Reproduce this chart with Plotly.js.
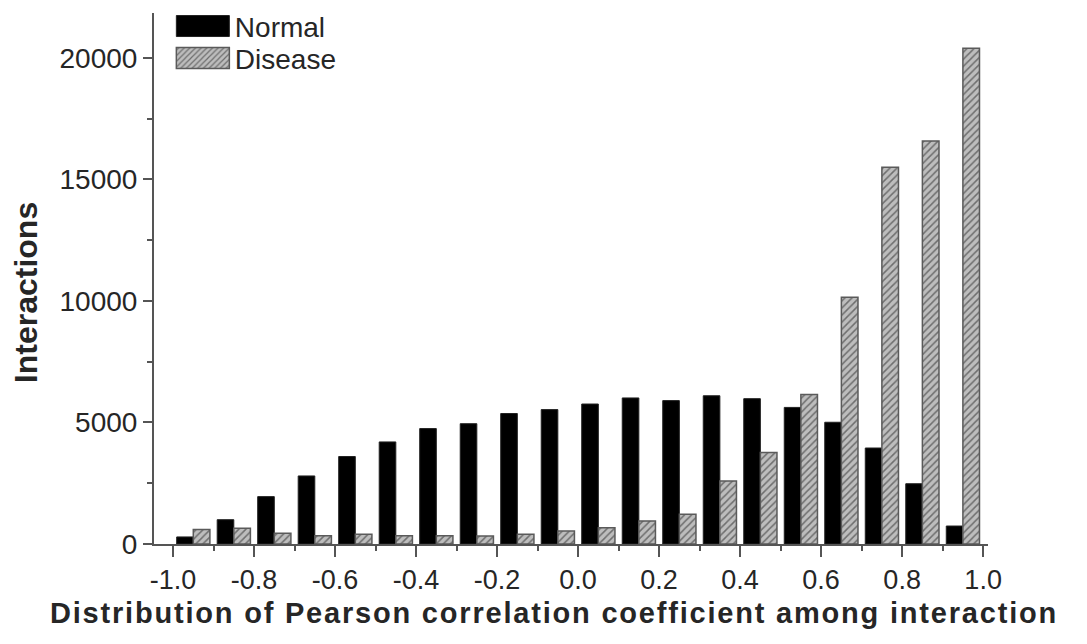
<!DOCTYPE html>
<html>
<head>
<meta charset="utf-8">
<script src="https://cdn.plot.ly/plotly-3.0.1.min.js"></script>
<style>
html,body{margin:0;padding:0;background:#fff;}
#chart{width:1087px;height:644px;}
#chart .g-xtitle text{letter-spacing:1.8px;}
</style>
</head>
<body>
<div id="chart"></div>
<script>
// Bin centres of the Pearson correlation histogram (bin width 0.1)
const binCenters = [-0.95, -0.85, -0.75, -0.65, -0.55, -0.45, -0.35, -0.25, -0.15, -0.05,
                    0.05, 0.15, 0.25, 0.35, 0.45, 0.55, 0.65, 0.75, 0.85, 0.95];
const normalCounts = [290, 1000, 1950, 2800, 3600, 4200, 4750, 4950, 5370, 5530,
                      5760, 6010, 5900, 6100, 5980, 5620, 5010, 3950, 2480, 740];
const diseaseCounts = [600, 650, 440, 340, 400, 340, 340, 330, 400, 530,
                       670, 950, 1220, 2590, 3770, 6150, 10150, 15500, 16580, 20400];
const xTickVals = [-1.0, -0.8, -0.6, -0.4, -0.2, 0.0, 0.2, 0.4, 0.6, 0.8, 1.0];
const xTickText = ['-1.0', '-0.8', '-0.6', '-0.4', '-0.2', '0.0', '0.2', '0.4', '0.6', '0.8', '1.0'];
const yTickVals = [0, 5000, 10000, 15000, 20000];
const yTickText = ['0', '5000', '10000', '15000', '20000'];

const FONT = 'Liberation Sans, Arial, sans-serif';
const AX = '#555555';
const TXT = '#262626';

const traces = [
  {
    type: 'bar', name: 'Normal', x: binCenters, y: normalCounts,
    marker: {color: '#000000', line: {color: '#222222', width: 1}}
  },
  {
    type: 'bar', name: 'Disease', x: binCenters, y: diseaseCounts,
    marker: {
      color: '#b4b4b4',
      line: {color: '#5a5a5a', width: 1.5},
      pattern: {shape: '/', fgcolor: '#6e6e6e', bgcolor: '#bdbdbd', size: 5, solidity: 0.3}
    }
  }
];

const layout = {
  width: 1087, height: 644,
  paper_bgcolor: '#ffffff', plot_bgcolor: '#ffffff',
  margin: {l: 154, r: 99, t: 13, b: 100, autoexpand: false},
  barmode: 'group', bargap: 0.18, bargroupgap: 0,
  font: {family: FONT, size: 27, color: TXT},
  showlegend: true,
  legend: {
    x: 0.019, y: 1.022, xanchor: 'left', yanchor: 'top',
    bgcolor: 'rgba(0,0,0,0)', borderwidth: 0,
    font: {family: FONT, size: 28, color: TXT},
    itemwidth: 55, tracegroupgap: 0
  },
  xaxis: {
    range: [-1.047, 1.012], autorange: false,
    tickmode: 'array', tickvals: xTickVals, ticktext: xTickText,
    ticks: 'outside', ticklen: 11, tickwidth: 2, tickcolor: AX,
    minor: {dtick: 0.1, tick0: -1, ticks: 'outside', ticklen: 5, tickwidth: 2, tickcolor: AX},
    showline: true, linecolor: AX, linewidth: 2,
    showgrid: false, zeroline: false,
    tickfont: {family: FONT, size: 27, color: TXT},
    title: {text: '<b>Distribution of Pearson correlation coefficient among interaction</b>',
            font: {family: FONT, size: 29, color: TXT}, standoff: 8}
  },
  yaxis: {
    range: [0, 21850], autorange: false,
    tickmode: 'array', tickvals: yTickVals, ticktext: yTickText,
    ticks: 'outside', ticklen: 9, tickwidth: 2, tickcolor: AX,
    minor: {dtick: 2500, tick0: 0, ticks: 'outside', ticklen: 5, tickwidth: 2, tickcolor: AX},
    showline: true, linecolor: AX, linewidth: 2,
    showgrid: false, zeroline: false,
    tickfont: {family: FONT, size: 28, color: TXT},
    title: {text: '<b>Interactions</b>',
            font: {family: FONT, size: 32, color: TXT}, standoff: 8}
  }
};

Plotly.newPlot('chart', traces, layout, {staticPlot: true, displayModeBar: false}).then(function () {
  // enlarge legend swatches to wide rectangles like the reference
  document.querySelectorAll('#chart g.legendpoints path').forEach(function (p) {
    const d = p.getAttribute('d') || '';
    if (d.indexOf('M6,6H-6V-6H6Z') === 0) {
      p.setAttribute('d', 'M27,10.5H-26V-10.5H27Z');
    }
  });
  // tighten legend row spacing to match the reference
  const items = document.querySelectorAll('#chart g.legend g.traces');
  if (items.length === 2) {
    const m = /translate\(([-\d.]+),\s*([-\d.]+)\)/.exec(items[0].getAttribute('transform') || '');
    if (m) {
      const x0 = parseFloat(m[1]), y0 = parseFloat(m[2]);
      items[1].setAttribute('transform', 'translate(' + x0 + ',' + (y0 + 32) + ')');
    }
  }
  // nudge axis titles to the reference positions
  const xt = document.querySelector('#chart g.g-xtitle');
  if (xt) xt.setAttribute('transform', 'translate(-17,0)');
  const yt = document.querySelector('#chart g.g-ytitle');
  if (yt) yt.setAttribute('transform', 'translate(-4,14)');
});
</script>
</body>
</html>
